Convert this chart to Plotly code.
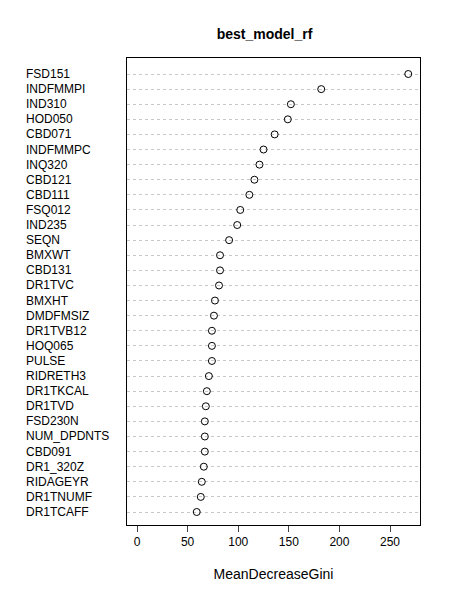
import plotly.graph_objects as go

variables = ['FSD151', 'INDFMMPI', 'IND310', 'HOD050', 'CBD071', 'INDFMMPC', 'INQ320',
             'CBD121', 'CBD111', 'FSQ012', 'IND235', 'SEQN', 'BMXWT', 'CBD131', 'DR1TVC',
             'BMXHT', 'DMDFMSIZ', 'DR1TVB12', 'HOQ065', 'PULSE', 'RIDRETH3', 'DR1TKCAL',
             'DR1TVD', 'FSD230N', 'NUM_DPDNTS', 'CBD091', 'DR1_320Z', 'RIDAGEYR',
             'DR1TNUMF', 'DR1TCAFF']
gini = [268, 182, 152, 149, 136, 125, 121, 116, 111, 102, 99, 91, 82, 82, 81,
        77, 76, 74, 74, 74, 71, 69, 68, 67, 67, 67, 66, 64, 63, 59]
x_ticks = [0, 50, 100, 150, 200, 250]

idx = list(range(len(variables)))
fig = go.Figure(go.Scatter(
    x=gini, y=idx, mode='markers',
    marker=dict(symbol='circle-open', size=7, color='black', line=dict(width=1)),
    hoverinfo='x+text', text=variables))

for i, v in zip(idx, variables):
    fig.add_annotation(x=-0.352, xref='paper', y=i, yref='y', text=v, showarrow=False,
                       xanchor='left', font=dict(size=12, color='black'))

fig.update_layout(
    width=450, height=600, plot_bgcolor='white', paper_bgcolor='white',
    margin=dict(l=119, r=38, t=50, b=83), showlegend=False,
    font=dict(family='Liberation Sans, Arial', size=12, color='black'),
    title=dict(text='<b>best_model_rf</b>', x=0.57, xanchor='center', y=0.965,
               font=dict(size=14)),
    xaxis=dict(range=[-9.9, 279.6], tickvals=x_ticks, ticks='outside', ticklen=6,
               showgrid=False, zeroline=False, showline=True, mirror=True,
               linecolor='black', title=dict(text='MeanDecreaseGini', standoff=20)),
    yaxis=dict(range=[29.86, -1.06], tickvals=idx, showticklabels=False,
               showgrid=True, gridcolor='#c8c8c8', griddash='dot', zeroline=False,
               showline=True, mirror=True, linecolor='black'),
)
fig.write_html('out.html')
